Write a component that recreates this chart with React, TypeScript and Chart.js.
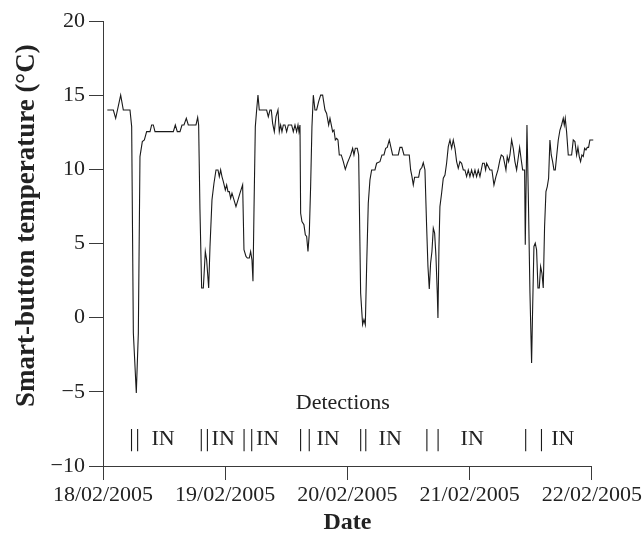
import React, { useEffect, useRef } from "react";
import { Chart, registerables } from "chart.js";

Chart.register(...registerables);

// Time in hours since 18/02/2005 00:00
const hours = [
  0.85, 2.03, 2.49, 3.47, 3.99, 5.3, 5.63, 5.96, 6.54, 6.94, 7.26, 7.72, 8.12, 8.57, 9.23, 9.55, 9.88, 10.21,
  13.81, 14.2, 14.59, 15.12, 15.51, 15.9, 16.36, 16.75, 18.26, 18.59, 18.78, 19.04, 19.37, 19.7, 20.09, 20.35,
  20.75, 21.01, 21.4, 21.79, 22.19, 22.58, 22.84, 23.1, 23.36, 23.63, 24.02, 24.28, 24.54, 24.8, 25.07, 25.33,
  25.72, 26.11, 26.51, 26.9, 27.42, 27.68, 28.08, 28.34, 28.73, 28.99, 29.25, 29.45, 29.65, 29.91, 30.17, 30.43,
  30.69, 32.13, 32.46, 32.79, 33.05, 33.31, 33.64, 33.97, 34.36, 34.62, 34.88, 35.14, 35.41, 35.73, 36.06, 36.39,
  37.04, 37.37, 37.7, 38.02, 38.29, 38.48, 38.68, 38.81, 39.07, 39.46, 39.73, 39.99, 40.25, 40.51, 40.77, 41.03,
  41.3, 41.62, 41.95, 42.34, 42.74, 43.13, 43.59, 43.91, 44.31, 44.57, 44.83, 45.09, 45.35, 45.62, 45.88, 46.14,
  46.4, 46.79, 47.19, 47.58, 47.97, 48.36, 48.63, 49.02, 49.28, 49.54, 49.93, 50.2, 50.59, 50.98, 51.24, 51.51,
  51.77, 52.09, 52.42, 52.75, 53.4, 53.73, 54.38, 54.78, 55.17, 55.5, 55.82, 56.22, 56.54, 56.87, 57.98, 58.31,
  58.7, 59.1, 60.14, 60.41, 60.67, 60.93, 61.19, 61.98, 62.24, 62.63, 62.89, 63.22, 63.55, 63.81, 64.07, 64.33,
  64.59, 64.86, 65.12, 65.38, 65.64, 65.77, 65.97, 66.16, 66.49, 66.82, 67.15, 67.47, 67.8, 68.13, 68.46, 68.78,
  69.11, 69.44, 69.76, 70.09, 70.42, 70.75, 71.07, 71.4, 71.73, 72.05, 72.38, 72.71, 73.04, 73.36, 73.69, 74.02,
  74.54, 74.87, 75.13, 75.33, 75.98, 76.37, 76.77, 77.16, 77.55, 77.94, 78.21, 78.6, 78.86, 79.12, 79.38, 79.65,
  79.91, 80.24, 80.56, 80.89, 81.22, 81.48, 81.81, 82.13, 82.4, 82.66, 82.79, 82.92, 83.25, 83.51, 83.84, 84.16,
  84.36, 84.62, 84.88, 85.14, 85.41, 85.67, 85.93, 86.19, 86.45, 86.71, 86.98, 87.24, 87.5, 87.76, 88.02, 88.29,
  88.55, 88.81, 89.07, 89.4, 89.73, 90.05, 90.38, 90.58, 90.77, 91.03, 91.36, 92.02, 92.34, 92.67, 93.0, 93.26,
  93.52, 93.78, 94.04, 94.31, 94.57, 94.83, 95.09, 95.35, 95.61, 96.27, 96.4,
];

const temps = [
  14.0, 14.0, 13.44, 15.0, 14.0, 14.0, 12.88, -1.03, -5.07, -1.03, 10.86, 11.87, 11.98, 12.54, 12.54, 12.99, 12.99, 12.54,
  12.54, 12.99, 12.54, 12.54, 12.99, 12.99, 13.44, 12.99, 12.99, 13.5, 12.99, 7.27, 2.0, 2.0, 4.46, 3.9,
  2.0, 4.8, 7.94, 9.06, 9.96, 9.96, 9.51, 9.96, 9.51, 9.17, 8.61, 8.95, 8.5, 8.5, 8.05, 8.39,
  7.94, 7.49, 7.94, 8.39, 8.95, 4.58, 4.13, 4.02, 4.02, 4.46, 3.9, 2.45, 7.27, 12.88, 14.0, 15.0,
  14.0, 14.0, 13.55, 14.0, 14.0, 13.1, 12.54, 13.55, 14.0, 12.54, 12.99, 12.54, 12.99, 12.99, 12.54, 12.99,
  12.99, 12.54, 12.99, 12.54, 12.99, 12.54, 12.99, 7.04, 6.48, 6.26, 5.59, 5.47, 4.46, 5.7, 8.84, 12.88,
  15.0, 14.0, 14.0, 14.56, 15.0, 15.0, 14.0, 13.77, 12.99, 13.44, 12.99, 12.54, 12.65, 11.98, 12.09, 11.98,
  10.97, 10.97, 10.52, 10.0, 10.41, 10.74, 10.97, 11.42, 10.97, 11.42, 11.42, 10.97, 1.66, -0.47, -0.13, -0.47,
  3.45, 7.72, 9.29, 9.96, 9.96, 10.41, 10.52, 10.97, 10.97, 11.42, 11.48, 11.98, 11.48, 10.97, 10.97, 11.48,
  11.48, 10.97, 10.97, 9.96, 9.51, 8.95, 9.47, 9.47, 9.96, 10.14, 10.45, 9.96, 6.15, 3.45, 1.93, 3.68,
  4.46, 6.03, 5.7, 4.13, 1.66, -0.02, 4.8, 7.49, 8.39, 9.4, 9.62, 10.41, 11.53, 11.98, 11.42, 11.98,
  11.42, 10.52, 10.07, 10.52, 10.41, 9.96, 9.96, 9.51, 9.96, 9.51, 9.96, 9.51, 9.96, 9.51, 9.96, 9.51,
  10.41, 10.41, 9.96, 10.41, 9.96, 9.96, 8.95, 9.51, 9.96, 10.63, 10.97, 10.86, 10.41, 9.96, 10.86, 10.52,
  10.97, 11.98, 11.42, 10.52, 9.96, 10.63, 11.48, 10.63, 9.96, 9.96, 9.96, 4.91, 12.99, 8.39, 1.66, -3.05,
  0.54, 4.8, 5.02, 4.58, 2.0, 2.0, 3.45, 3.01, 2.0, 6.15, 8.5, 8.84, 9.4, 11.98, 10.97, 10.52,
  9.96, 9.96, 10.86, 11.98, 12.65, 12.99, 13.44, 12.99, 13.44, 12.54, 10.97, 10.97, 11.98, 11.87, 10.97, 11.48,
  10.86, 10.52, 10.97, 10.86, 11.42, 11.31, 11.48, 11.48, 11.98, 11.98, 6.93,
];

// Detection marks (hours) and "IN" labels
const detectionHours = [5.6, 6.8, 19.3, 20.5, 27.7, 29.2, 38.8, 40.5, 50.6, 51.6, 63.6, 65.8, 83.0, 86.1];
const detectionTop = -7.5;
const detectionBottom = -9.0;
const inLabelHours = [11.8, 23.6, 32.3, 44.2, 56.4, 72.5, 90.3];
const inLabelTemp = -8.2;
const detectionsTitle = "Detections";
const detectionsTitleHour = 47.1;
const detectionsTitleTemp = -5.75;

const xTickHours = [0, 24, 48, 72, 96];
const xTickLabels = ["18/02/2005", "19/02/2005", "20/02/2005", "21/02/2005", "22/02/2005"];
const yTicks = [-10, -5, 0, 5, 10, 15, 20];
const yTitle = "Smart-button temperature (\u00B0C)";
const yTitleCenterTemp = 6.2;

const FONT = '"Liberation Serif", "Times New Roman", serif';
const AXIS_COLOR = "#3a3a3a";
const LINE_COLOR = "#1a1a1a";

const textPlugin = {
  id: "detectionText",
  afterDatasetsDraw(chart: any) {
    const { ctx, scales } = chart;
    const xs = scales.x;
    const ys = scales.y;
    ctx.save();
    ctx.fillStyle = "#222";
    ctx.font = `22px ${FONT}`;
    ctx.textAlign = "center";
    ctx.textBaseline = "middle";
    ctx.fillText(detectionsTitle, xs.getPixelForValue(detectionsTitleHour), ys.getPixelForValue(detectionsTitleTemp));
    inLabelHours.forEach((h) => {
      ctx.fillText("IN", xs.getPixelForValue(h), ys.getPixelForValue(inLabelTemp));
    });
    // y-axis title
    ctx.translate(27, ys.getPixelForValue(yTitleCenterTemp));
    ctx.rotate(-Math.PI / 2);
    ctx.font = `bold 27px ${FONT}`;
    ctx.fillText(yTitle, 0, 0);
    ctx.restore();
  },
};

export default function App() {
  const canvasRef = useRef<HTMLCanvasElement | null>(null);

  useEffect(() => {
    if (!canvasRef.current) return;
    const tempData = hours.map((h, i) => ({ x: h, y: temps[i] }));
    const detData: any[] = [];
    detectionHours.forEach((h) => {
      detData.push({ x: h, y: detectionTop });
      detData.push({ x: h, y: detectionBottom });
      detData.push({ x: h, y: null });
    });

    const chart = new Chart(canvasRef.current, {
      type: "line",
      data: {
        datasets: [
          {
            data: tempData,
            borderColor: LINE_COLOR,
            borderWidth: 1.1,
            pointRadius: 0,
            tension: 0,
            clip: false as any,
          },
          {
            data: detData,
            borderColor: LINE_COLOR,
            borderWidth: 1.1,
            pointRadius: 0,
            spanGaps: false,
          },
        ],
      },
      options: {
        animation: false,
        responsive: true,
        maintainAspectRatio: false,
        layout: { padding: { left: 0, top: 21, right: 52, bottom: 4 } },
        plugins: { legend: { display: false }, tooltip: { enabled: false } },
        scales: {
          x: {
            type: "linear",
            min: 0,
            max: 96,
            afterBuildTicks: (scale: any) => {
              scale.ticks = xTickHours.map((v) => ({ value: v }));
            },
            afterFit: (scale: any) => {
              scale.height = 541 - 466 - 4;
            },
            ticks: {
              autoSkip: false,
              maxRotation: 0,
              color: "#222",
              font: { family: FONT, size: 22 },
              padding: 2,
              callback: (v: any) => {
                const i = xTickHours.indexOf(Number(v));
                return i >= 0 ? xTickLabels[i] : "";
              },
            },
            grid: { drawOnChartArea: false, drawTicks: true, tickLength: 14, color: AXIS_COLOR },
            border: { display: true, color: AXIS_COLOR, width: 1 },
            title: {
              display: true,
              text: "Date",
              color: "#222",
              font: { family: FONT, size: 24, weight: "bold" },
              padding: { top: 0, bottom: 0 },
            },
          },
          y: {
            type: "linear",
            min: -10,
            max: 20,
            afterBuildTicks: (scale: any) => {
              scale.ticks = yTicks.map((v) => ({ value: v }));
            },
            afterFit: (scale: any) => {
              scale.width = 103;
            },
            ticks: {
              color: "#222",
              font: { family: FONT, size: 22 },
              padding: 4,
              callback: (v: any) => (Number(v) < 0 ? "\u2212" + Math.abs(Number(v)) : String(v)),
            },
            grid: { drawOnChartArea: false, drawTicks: true, tickLength: 14, color: AXIS_COLOR },
            border: { display: true, color: AXIS_COLOR, width: 1 },
            title: { display: false },
          },
        },
      },
      plugins: [textPlugin],
    });
    return () => chart.destroy();
  }, []);

  return (
    <div style={{ position: "absolute", left: 0, top: 0, width: 644, height: 541, background: "#fff" }}>
      <canvas ref={canvasRef} />
    </div>
  );
}
